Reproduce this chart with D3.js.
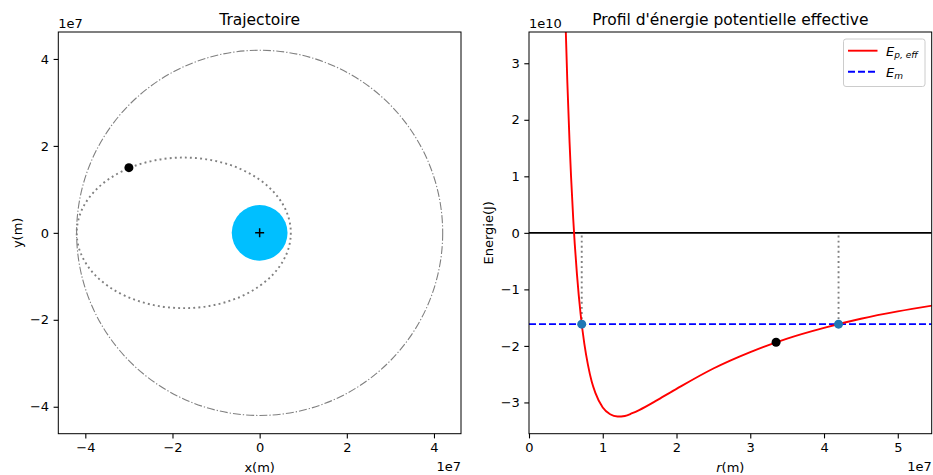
<!DOCTYPE html>
<html>
<head>
<meta charset="utf-8">
<script src="https://cdn.jsdelivr.net/npm/d3@7"></script>
<style>
  body { margin: 0; background: #fff; }
  svg { font-family: "DejaVu Sans", sans-serif; }
</style>
</head>
<body>
<svg width="933" height="475"></svg>
<script>
// radius samples (m) and effective potential energy (J)
var rSamples = [4.8e6, 5.0e6, 5.2e6, 5.5e6, 5.7e6, 6.0e6, 6.2e6, 6.5e6, 7.0e6, 7.5e6, 8.0e6, 8.5e6, 9.0e6,
  1.0e7, 1.1e7, 1.2e7, 1.3e7, 1.4e7, 1.5e7, 1.75e7, 2.0e7, 2.5e7, 3.0e7, 3.5e7, 4.0e7, 4.5e7, 5.0e7, 5.5e7];
var epSamples = [4.50e10, 3.52e10, 2.66e10, 1.60e10, 1.00e10, 0.24e10, -0.19e10, -0.73e10, -1.44e10, -1.96e10,
  -2.34e10, -2.63e10, -2.83e10, -3.09e10, -3.21e10, -3.25e10, -3.24e10, -3.19e10, -3.13e10, -2.95e10,
  -2.76e10, -2.40e10, -2.11e10, -1.87e10, -1.68e10, -1.52e10, -1.39e10, -1.28e10];
// mechanical energy and turning points
var Em = -1.615e10;
var rTurn = [7.15e6, 4.197e7];
// satellite current position
var satX = -3.0e7, satY = 1.5e7;
var satR = 3.35e7, satE = -1.935e10;
// orbit geometry
var ellipseCx = -1.741e7, semiMajor = 2.456e7, semiMinor = 1.732e7;
var geoRadius = 4.2e7;
var earthRadius = 6.4e6;
// tick values
var trajTicks = [-4e7, -2e7, 0, 2e7, 4e7];
var rTicks = [0, 1e7, 2e7, 3e7, 4e7, 5e7];
var eTicks = [-3e10, -2e10, -1e10, 0, 1e10, 2e10, 3e10];

var svg = d3.select("svg");
var grey = "#808080";
var fs = 13;
var titleFs = 15.5;

// ---------- left panel: trajectory ----------
var L = {left: 58.3, right: 461, top: 32, bottom: 433.7};
var lim = 1.1 * geoRadius;
var x1 = d3.scaleLinear().domain([-lim, lim]).range([L.left, L.right]);
var y1 = d3.scaleLinear().domain([-lim, lim]).range([L.bottom, L.top]);

svg.append("clipPath").attr("id", "clipL").append("rect")
  .attr("x", L.left).attr("y", L.top).attr("width", L.right - L.left).attr("height", L.bottom - L.top);
var gL = svg.append("g").attr("clip-path", "url(#clipL)");

// geostationary circle, dash-dot
gL.append("ellipse")
  .attr("cx", x1(0)).attr("cy", y1(0))
  .attr("rx", x1(geoRadius) - x1(0)).attr("ry", y1(0) - y1(geoRadius))
  .attr("fill", "none").attr("stroke", grey).attr("stroke-width", 1.1)
  .attr("stroke-dasharray", "8,2,1.3,2");
// earth
gL.append("ellipse")
  .attr("cx", x1(0)).attr("cy", y1(0))
  .attr("rx", x1(earthRadius) - x1(0)).attr("ry", y1(0) - y1(earthRadius))
  .attr("fill", "#00bfff");
// orbit ellipse, dotted
gL.append("ellipse")
  .attr("cx", x1(ellipseCx)).attr("cy", y1(0))
  .attr("rx", x1(ellipseCx + semiMajor) - x1(ellipseCx)).attr("ry", y1(0) - y1(semiMinor))
  .attr("fill", "none").attr("stroke", grey).attr("stroke-width", 1.9)
  .attr("stroke-dasharray", "1.9,3.2");
// center marker
gL.append("path")
  .attr("d", "M" + (x1(0) - 4.5) + "," + y1(0) + "h9M" + x1(0) + "," + (y1(0) - 4.5) + "v9")
  .attr("stroke", "black").attr("stroke-width", 1.5);
// satellite
gL.append("circle").attr("cx", x1(satX)).attr("cy", y1(satY)).attr("r", 4.5).attr("fill", "black");

svg.append("g").attr("transform", "translate(0," + L.bottom + ")")
  .call(d3.axisBottom(x1).tickValues(trajTicks).tickSize(4.7).tickPadding(4.5)
    .tickFormat(d => d3.format("d")(d / 1e7).replace("-", "\u2212")));
svg.append("g").attr("transform", "translate(" + L.left + ",0)")
  .call(d3.axisLeft(y1).tickValues(trajTicks).tickSize(4.7).tickPadding(4.5)
    .tickFormat(d => d3.format("d")(d / 1e7).replace("-", "\u2212")));
svg.append("rect").attr("x", L.left).attr("y", L.top).attr("width", L.right - L.left).attr("height", L.bottom - L.top)
  .attr("fill", "none").attr("stroke", "black").attr("stroke-width", 1);

svg.append("text").attr("x", (L.left + L.right) / 2).attr("y", 24.5).attr("text-anchor", "middle")
  .attr("font-size", titleFs).text("Trajectoire");
svg.append("text").attr("x", (L.left + L.right) / 2).attr("y", 471.5).attr("text-anchor", "middle")
  .attr("font-size", fs).text("x(m)");
svg.append("text").attr("transform", "translate(22," + (L.top + L.bottom) / 2 + ") rotate(-90)")
  .attr("text-anchor", "middle").attr("font-size", fs).text("y(m)");
svg.append("text").attr("x", L.right).attr("y", 470.5).attr("text-anchor", "end").attr("font-size", fs).text("1e7");
svg.append("text").attr("x", L.left).attr("y", 28).attr("font-size", fs).text("1e7");

// ---------- right panel: effective potential ----------
var R = {left: 529, right: 931.7, top: 32, bottom: 433.7};
var x2 = d3.scaleLinear().domain([0, 1.3 * geoRadius]).range([R.left, R.right]);
var y2 = d3.scaleLinear().domain([2.2 * Em, -2.2 * Em]).range([R.bottom, R.top]);

svg.append("clipPath").attr("id", "clipR").append("rect")
  .attr("x", R.left).attr("y", R.top).attr("width", R.right - R.left).attr("height", R.bottom - R.top);
var gR = svg.append("g").attr("clip-path", "url(#clipR)");

// zero line
gR.append("line").attr("x1", R.left).attr("x2", R.right).attr("y1", y2(0)).attr("y2", y2(0))
  .attr("stroke", "black").attr("stroke-width", 1.9);
// vertical dotted guides at turning points
gR.selectAll(".guide").data(rTurn).enter().append("line").classed("guide", true)
  .attr("x1", d => x2(d)).attr("x2", d => x2(d)).attr("y1", y2(Em)).attr("y2", y2(0))
  .attr("stroke", grey).attr("stroke-width", 1.9).attr("stroke-dasharray", "1.9,3.2");
// Em line
gR.append("line").attr("x1", R.left).attr("x2", R.right).attr("y1", y2(Em)).attr("y2", y2(Em))
  .attr("stroke", "blue").attr("stroke-width", 1.9).attr("stroke-dasharray", "7,3");
// effective potential curve
var line = d3.line().x((d, i) => x2(rSamples[i])).y(d => y2(d)).curve(d3.curveMonotoneX);
gR.append("path").attr("d", line(epSamples)).attr("fill", "none").attr("stroke", "red").attr("stroke-width", 1.9);
// turning points and satellite
gR.selectAll(".turn").data(rTurn).enter().append("circle").classed("turn", true)
  .attr("cx", d => x2(d)).attr("cy", y2(Em)).attr("r", 4.5).attr("fill", "#1f77b4");
gR.append("circle").attr("cx", x2(satR)).attr("cy", y2(satE)).attr("r", 4.5).attr("fill", "black");

svg.append("g").attr("transform", "translate(0," + R.bottom + ")")
  .call(d3.axisBottom(x2).tickValues(rTicks).tickSize(4.7).tickPadding(4.5)
    .tickFormat(d => d3.format("d")(d / 1e7)));
svg.append("g").attr("transform", "translate(" + R.left + ",0)")
  .call(d3.axisLeft(y2).tickValues(eTicks).tickSize(4.7).tickPadding(4.5)
    .tickFormat(d => d3.format("d")(d / 1e10).replace("-", "\u2212")));
svg.append("rect").attr("x", R.left).attr("y", R.top).attr("width", R.right - R.left).attr("height", R.bottom - R.top)
  .attr("fill", "none").attr("stroke", "black").attr("stroke-width", 1);

svg.append("text").attr("x", (R.left + R.right) / 2).attr("y", 24.5).attr("text-anchor", "middle")
  .attr("font-size", titleFs).text("Profil d'\u00e9nergie potentielle effective");
var rl = svg.append("text").attr("x", (R.left + R.right) / 2).attr("y", 471.5).attr("text-anchor", "middle")
  .attr("font-size", fs);
rl.append("tspan").attr("font-style", "italic").text("r");
rl.append("tspan").text("(m)");
svg.append("text").attr("transform", "translate(493," + (R.top + R.bottom) / 2 + ") rotate(-90)")
  .attr("text-anchor", "middle").attr("font-size", fs).text("Energie(J)");
svg.append("text").attr("x", R.right).attr("y", 470.5).attr("text-anchor", "end").attr("font-size", fs).text("1e7");
svg.append("text").attr("x", R.left).attr("y", 28).attr("font-size", fs).text("1e10");

// axis styling
svg.selectAll(".tick text").attr("font-size", fs).attr("font-family", "DejaVu Sans").attr("fill", "black");
svg.selectAll(".tick line").attr("stroke", "black").attr("stroke-width", 1.1);
svg.selectAll(".domain").remove();

// legend
var lg = svg.append("g");
lg.append("rect").attr("x", 843.5).attr("y", 39).attr("width", 81.5).attr("height", 47.5).attr("rx", 2.5)
  .attr("fill", "white").attr("fill-opacity", 0.8).attr("stroke", "#cccccc").attr("stroke-width", 1);
lg.append("line").attr("x1", 848).attr("x2", 877.5).attr("y1", 50.7).attr("y2", 50.7)
  .attr("stroke", "red").attr("stroke-width", 1.9);
lg.append("line").attr("x1", 848).attr("x2", 877.5).attr("y1", 71.7).attr("y2", 71.7)
  .attr("stroke", "blue").attr("stroke-width", 1.9).attr("stroke-dasharray", "7,3");
var t1 = lg.append("text").attr("x", 886).attr("y", 55.5).attr("font-size", fs);
t1.append("tspan").attr("font-style", "italic").text("E");
t1.append("tspan").attr("font-style", "italic").attr("font-size", 9).attr("dy", 2.5).text("p, eff");
var t2 = lg.append("text").attr("x", 886).attr("y", 76.5).attr("font-size", fs);
t2.append("tspan").attr("font-style", "italic").text("E");
t2.append("tspan").attr("font-style", "italic").attr("font-size", 9).attr("dy", 2.5).text("m");
</script>
</body>
</html>
